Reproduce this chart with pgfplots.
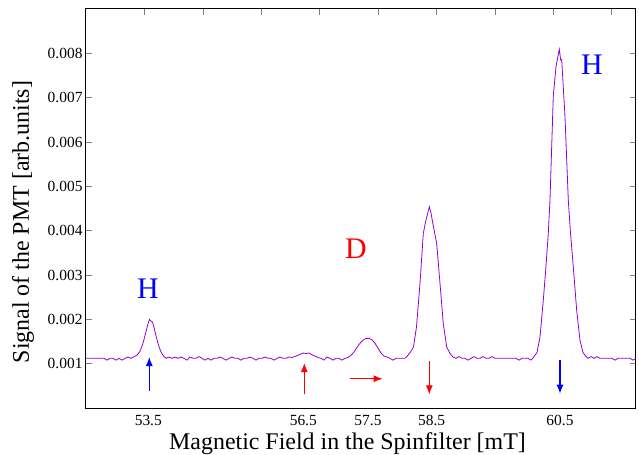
\documentclass[border=0pt]{standalone}
\usepackage{fontspec}
\setmainfont{Liberation Serif}
\usepackage{pgfplots}
\pgfplotsset{compat=1.18}
\usetikzlibrary{arrows.meta}

\definecolor{trace}{RGB}{148,0,211}

\begin{document}
\begin{tikzpicture}
\useasboundingbox (-86bp,-47bp) rectangle (553bp,408bp);
\begin{axis}[
    scale only axis,
    width=550bp, height=399bp,
    xmin=0, xmax=550,
    ymin=0, ymax=0.009,
    axis line style={line width=1bp},
    xtick={62.3,217.3,282,345.7,474},
    xticklabels={53.5,56.5,57.5,58.5,60.5},
    xtick style={draw=none},
    xtick pos=left,
    xticklabel style={yshift=-4bp},
    ytick={0.001,0.002,0.003,0.004,0.005,0.006,0.007,0.008},
    scaled y ticks=false,
    ytick pos=both,
    tick align=inside,
    major tick length=6bp,
    ytick style={line width=0.8bp},
    tick label style={font=\fontsize{15.5}{17}\selectfont},
    yticklabel style={/pgf/number format/fixed,
        /pgf/number format/precision=3,
        /pgf/number format/fixed zerofill,
        /pgf/number format/assume math mode=true},
    xlabel={Magnetic Field in the Spinfilter [mT]},
    ylabel={Signal of the PMT [arb.units]},
    label style={font=\fontsize{24}{26}\selectfont},
    xlabel style={at={(axis description cs:0.4755,0)}, anchor=north, yshift=-21bp},
    ylabel style={at={(axis description cs:-0.1145,0.466)}, anchor=center},
]
\addplot[color=trace, line width=0.8bp] coordinates {
(0,0.00112) (3,0.00112) (6,0.00112) (9,0.00112) (12,0.00112) (15,0.00112)
(18,0.00112) (21,0.00108) (24,0.00112) (27,0.00112) (30,0.00108) (33,0.00112)
(36,0.00108) (39,0.00112) (42,0.00115) (45,0.00112)
(48,0.00116) (51,0.00119) (54,0.00128) (57,0.00146) (60,0.00172) (62,0.00190)
(63.5,0.00200) (65,0.00196) (66.5,0.00194) (68,0.00182) (70,0.00163) (72,0.00146)
(74,0.00132) (76,0.00122) (78,0.00116) (80,0.00112)
(83,0.00115) (86,0.00112) (89,0.00115) (92,0.00112) (95,0.00115) (98,0.00112)
(101,0.00108) (104,0.00115) (107,0.00112) (110,0.00112) (113,0.00116) (116,0.00112)
(119,0.00108) (122,0.00112) (125,0.00108) (128,0.00112) (131,0.00112) (134,0.00115)
(137,0.00112) (140,0.00108) (143,0.00112) (146,0.00115) (149,0.00112) (152,0.00112)
(155,0.00108) (158,0.00112) (161,0.00112) (164,0.00115) (167,0.00112) (170,0.00108)
(173,0.00112) (176,0.00112) (179,0.00115) (182,0.00112) (185,0.00112) (188,0.00108)
(191,0.00112) (194,0.00115) (197,0.00112) (200,0.00112) (203,0.00115)
(206,0.00114) (210,0.00117) (214,0.00121) (217,0.00124) (220,0.00123) (223,0.00124)
(226,0.00120) (229,0.00117) (232,0.00114) (235,0.00112) (238,0.00108) (241,0.00115)
(244,0.00112) (247,0.00108) (250,0.00112) (253,0.00112) (256,0.00108) (259,0.00112)
(262,0.00114) (265,0.00119) (268,0.00126) (271,0.00137) (274,0.00146) (277,0.00153)
(280,0.00157) (283,0.00157) (286,0.00154) (289,0.00146) (292,0.00135) (295,0.00124)
(298,0.00117) (301,0.00115) (304,0.00112) (307,0.00108) (310,0.00112) (313,0.00112)
(316,0.00112) (319,0.00112)
(322,0.00119) (325,0.00128) (327.5,0.00138) (330.5,0.00183) (334,0.00281) (337.3,0.00394)
(340,0.00424) (343.3,0.00454) (345,0.00440) (346.7,0.00418) (350.7,0.00371) (354,0.00281)
(357.3,0.00190) (360.7,0.00138) (364,0.00123) (367,0.00115) (370,0.00112) (373,0.00116)
(376,0.00112) (379,0.00112) (382,0.00108) (385,0.00112) (388,0.00116) (391,0.00112)
(394,0.00112) (397,0.00116) (400,0.00112) (403,0.00112) (406,0.00116) (409,0.00112)
(412,0.00112) (415,0.00112) (418,0.00112) (421,0.00112) (424,0.00112) (427,0.00112)
(430,0.00112) (433,0.00108) (436,0.00112) (439,0.00112) (442,0.00112) (445,0.00108)
(447.3,0.00114) (451,0.00125) (454,0.00160) (457.3,0.00243) (460,0.00320) (462.3,0.00394)
(464,0.00469) (467.3,0.00704) (470,0.00770) (473.3,0.00809) (474.7,0.00785) (475.7,0.00786)
(479,0.00657) (482.3,0.00469) (484.5,0.00395) (487.3,0.00318) (490.7,0.00220) (494,0.00153)
(497,0.00125) (499,0.00119) (502,0.00112) (505,0.00116) (508,0.00112) (511,0.00116)
(514,0.00112) (517,0.00112) (520,0.00112) (523,0.00112) (526,0.00112) (529,0.00108)
(532,0.00112) (535,0.00112) (538,0.00112) (541,0.00112) (544,0.00112) (547,0.00108)
(550,0.00112)
};
% markers and labels
\draw[blue, line width=1.1bp, -{Latex[length=9bp,width=7bp]}] (axis cs:63.3,0.000381) -- (axis cs:63.3,0.00115);
\draw[red, line width=1.1bp, -{Latex[length=9bp,width=7bp]}] (axis cs:218.3,0.000307) -- (axis cs:218.3,0.001014);
\draw[red, line width=1.1bp, -{Latex[length=9bp,width=7bp]}] (axis cs:264,0.000661) -- (axis cs:296.7,0.000661);
\draw[red, line width=1.1bp, -{Latex[length=9bp,width=7bp]}] (axis cs:343.3,0.00106) -- (axis cs:343.3,0.000307);
\draw[blue, line width=1.1bp, -{Latex[length=9bp,width=7bp]}] (axis cs:474,0.00109) -- (axis cs:474,0.000323);
\node[blue, font=\fontsize{30}{32}\selectfont] at (axis cs:62,0.00268) {H};
\node[red, font=\fontsize{30}{32}\selectfont] at (axis cs:270,0.0036) {D};
\node[blue, font=\fontsize{30}{32}\selectfont] at (axis cs:506,0.00774) {H};
\end{axis}
\begin{axis}[
    scale only axis,
    width=550bp, height=399bp,
    xmin=0, xmax=550,
    ymin=0, ymax=0.009,
    axis x line*=top,
    axis y line=none,
    axis line style={line width=1bp},
    xtick={58.5,116.9,175.3,233.7,292.1,350.5,408.9,467.3,525.7},
    xticklabels={},
    tick align=inside,
    major tick length=6bp,
    xtick style={line width=0.8bp},
]
\end{axis}
\end{tikzpicture}
\end{document}
